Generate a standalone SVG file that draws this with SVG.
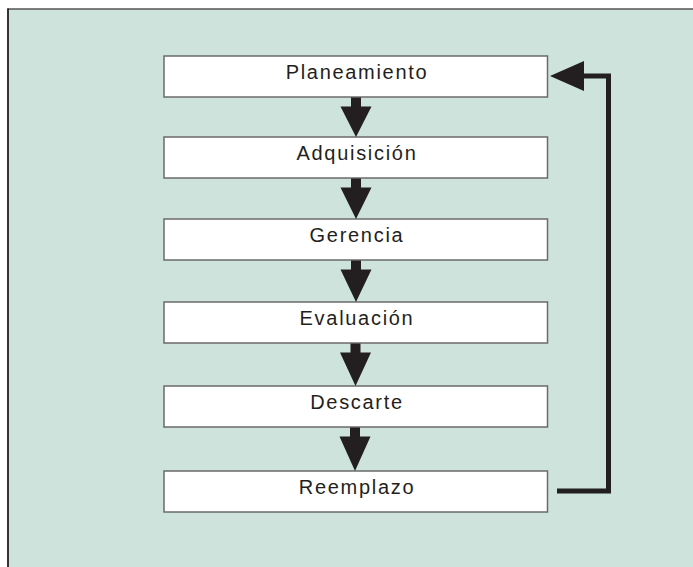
<svg xmlns="http://www.w3.org/2000/svg" width="693" height="567" viewBox="0 0 693 567">
  <style>
    .box { fill: #ffffff; stroke: #6b6b6b; stroke-width: 1.5; }
    .lbl { font-family: "Liberation Sans", Arial, sans-serif; font-size: 20px; letter-spacing: 1.7px; fill: #231f20; text-anchor: middle; }
    .arr { fill: #231f20; }
    .line { fill: none; stroke: #231f20; stroke-width: 5; stroke-linejoin: miter; }
  </style>
  <rect x="0" y="0" width="693" height="567" fill="#ffffff"/>
  <rect id="panel" x="8" y="9" width="686" height="559" fill="#cde3dc"/>
  <line x1="7.5" y1="9" x2="693" y2="9" stroke="#555555" stroke-width="1.5"/>
  <line x1="8" y1="8.5" x2="8" y2="567" stroke="#231f20" stroke-width="1.8"/>

  <g id="n1"><rect class="box" x="164" y="56" width="383.5" height="41"/><text class="lbl" x="357" y="79">Planeamiento</text></g>
  <g id="n2"><rect class="box" x="164" y="137" width="383.5" height="41"/><text class="lbl" x="357" y="160">Adquisición</text></g>
  <g id="n3"><rect class="box" x="164" y="219" width="383.5" height="41"/><text class="lbl" x="357" y="242">Gerencia</text></g>
  <g id="n4"><rect class="box" x="164" y="302" width="383.5" height="41"/><text class="lbl" x="357" y="325">Evaluación</text></g>
  <g id="n5"><rect class="box" x="164" y="386" width="383.5" height="41"/><text class="lbl" x="357" y="409">Descarte</text></g>
  <g id="n6"><rect class="box" x="164" y="471" width="383.5" height="41"/><text class="lbl" x="357" y="494">Reemplazo</text></g>

  <g id="connectors">
    <polygon class="arr" points="351,97.5 361,97.5 361,106.5 371.5,106.5 356,137 340.5,106.5 351,106.5"/>
    <polygon class="arr" points="351,178.5 361,178.5 361,187.5 371.5,187.5 356,219 340.5,187.5 351,187.5"/>
    <polygon class="arr" points="351,260.5 361,260.5 361,269.5 371.5,269.5 356,302 340.5,269.5 351,269.5"/>
    <polygon class="arr" points="350.5,343.5 360.5,343.5 360.5,352.5 371,352.5 355.5,386 340,352.5 350.5,352.5"/>
    <polygon class="arr" points="350,427.5 360,427.5 360,436.5 370.5,436.5 355,471 339.5,436.5 350,436.5"/>
    <path class="line" d="M557,491 H608.5 V76 H583"/>
    <polygon class="arr" points="550,76 584,61 584,91"/>
  </g>
</svg>
